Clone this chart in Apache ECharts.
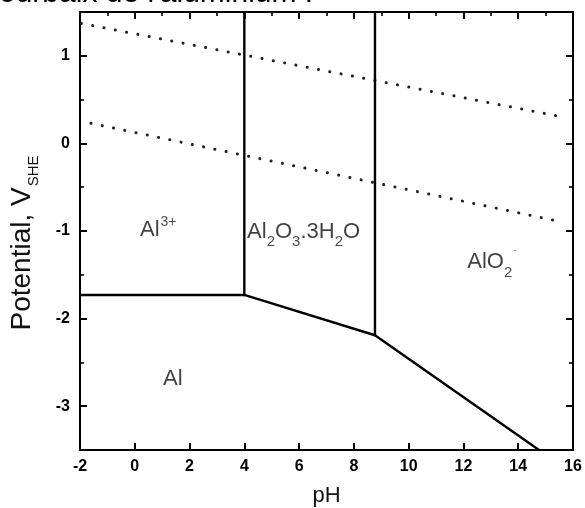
<!DOCTYPE html>
<html>
<head>
<meta charset="utf-8">
<script src="https://cdn.jsdelivr.net/npm/echarts@6/dist/echarts.min.js"></script>
<style>
html,body{margin:0;padding:0;background:#fff;}
#chart{width:585px;height:508px;}
</style>
</head>
<body>
<div id="chart"></div>
<script>
// ---- data (pH, potential V vs SHE) ----
const xTicks = [-2, 0, 2, 4, 6, 8, 10, 12, 14, 16];
const xTopMinor = [-1, 1, 3, 5, 7, 9, 11, 13, 15];
const yTicks = [-3, -2, -1, 0, 1];
const yMinor = [-2.5, -1.5, -0.5, 0.5];

const al3MetalLine = [[-2, -1.73], [4, -1.73]];
const al3OxideLine = [[4, -1.73], [4, 1.5]];
const oxideAluminateLine = [[8.77, -2.19], [8.77, 1.5]];
const metalLine = [[4, -1.73], [8.77, -2.19], [14.76, -3.5]];
const oxygenLine = [[-1.95, 1.37], [15.65, 0.30]];
const hydrogenLine = [[-1.6, 0.23], [15.65, -0.90]];

const regionNames = ['{b|Al}{sup|3+}', '{b|Al}{sub|2}{b|O}{sub|3}{b|.3H}{sub|2}{b|O}', '{b|AlO}{sub|2}{supl|-}', '{b|Al}'];
const regionPH = [0.19, 4.10, 12.14, 1.03];
const regionV = [-1.0, -1.02, -1.365, -2.70];

const FONT = "'Liberation Sans', Arial, sans-serif";
const chart = echarts.init(document.getElementById('chart'), null, {renderer: 'canvas'});

const solid = (data) => ({
  type: 'line', data: data, xAxisIndex: 0, yAxisIndex: 0, symbol: 'none', silent: true,
  lineStyle: {color: '#000', width: 2.4, cap: 'round', join: 'round'}, z: 5
});
const dotted = (data) => ({
  type: 'line', data: data, xAxisIndex: 0, yAxisIndex: 0, symbol: 'none', silent: true,
  lineStyle: {color: '#222', width: 3, type: [0.1, 11.4], cap: 'round'}, z: 4
});

const rich = {
  b: {fontFamily: FONT, fontSize: 22, color: '#111', lineHeight: 24, padding: [6, 0, 0, 0], verticalAlign: 'top'},
  sub: {fontFamily: FONT, fontSize: 15, color: '#1a1a1a', lineHeight: 15, padding: [20, 0, 0, 0], verticalAlign: 'top'},
  sup: {fontFamily: FONT, fontSize: 14, color: '#1a1a1a', lineHeight: 14, padding: [2, 0, 0, 1], verticalAlign: 'top'},
  supl: {fontFamily: FONT, fontSize: 10, color: '#888', lineHeight: 10, padding: [0, 0, 0, 1], verticalAlign: 'top'}
};

const labelData = regionNames.map((n, i) => ({value: [regionPH[i], regionV[i]], name: n}));

const axisLineStyle = {show: true, onZero: false, lineStyle: {color: '#000', width: 2}};
const noLine = {show: false, onZero: false};
const emptyAxis = {axisLabel: {show: false}, splitLine: {show: false}};
const tickRich = {t: {color: '#000', fontFamily: FONT, fontWeight: 'bold', fontSize: 16, lineHeight: 18}};

const option = {
  backgroundColor: '#fff',
  animation: false,
  textStyle: {fontFamily: FONT},
  title: {
    text: "ourbaix de l'aluminium :", left: -1, top: -21, padding: 0,
    textStyle: {fontFamily: FONT, fontSize: 30, fontWeight: 'normal', color: '#000'}
  },
  grid: {left: 80, right: 12, top: 12, bottom: 58, containLabel: false, outerBoundsMode: 'none'},
  xAxis: [
    {
      type: 'value', position: 'bottom', min: -2, max: 16, interval: 2,
      axisLine: axisLineStyle,
      axisTick: {show: true, inside: true, length: 7, lineStyle: {color: '#000', width: 2}},
      axisLabel: {show: true, margin: 8, color: '#000', fontSize: 16, fontWeight: 'bold',
        formatter: (v) => '{t|' + v + '}', rich: tickRich},
      splitLine: {show: false},
      name: 'pH', nameLocation: 'middle', nameGap: 35,
      nameTextStyle: {color: '#111', fontFamily: FONT, fontSize: 22}
    },
    Object.assign({
      type: 'value', position: 'top', min: -2, max: 16, interval: 2,
      axisLine: axisLineStyle,
      axisTick: {show: true, inside: true, length: 7, lineStyle: {color: '#000', width: 2}}
    }, emptyAxis),
    Object.assign({
      type: 'value', position: 'top', offset: 0, min: -2, max: 16, interval: 2,
      axisLine: noLine,
      axisTick: {show: true, inside: true, length: 4, customValues: xTopMinor, lineStyle: {color: '#000', width: 1.6}}
    }, emptyAxis)
  ],
  yAxis: [
    {
      type: 'value', position: 'left', min: -3.5, max: 1.5, interval: 0.5,
      axisLine: axisLineStyle,
      axisTick: {show: true, inside: true, length: 7, customValues: yTicks, lineStyle: {color: '#000', width: 2}},
      axisLabel: {show: true, margin: 10, color: '#000', fontSize: 16, fontWeight: 'bold',
        formatter: (v) => (yTicks.indexOf(v) >= 0 ? '{t|' + v + '}' : ''), rich: tickRich},
      splitLine: {show: false},
      name: '{n|Potential, V}{s|SHE}', nameLocation: 'middle', nameGap: 42, nameRotate: 90,
      nameTextStyle: {
        color: '#111', fontFamily: FONT, fontSize: 28, padding: [0, 24, 0, 0],
        rich: {
          n: {fontFamily: FONT, fontSize: 28, color: '#111', lineHeight: 30, verticalAlign: 'top'},
          s: {fontFamily: FONT, fontSize: 15, color: '#111', lineHeight: 15, padding: [18, 0, 0, 1], verticalAlign: 'top'}
        }
      }
    },
    Object.assign({
      type: 'value', position: 'left', offset: 0, min: -3.5, max: 1.5, interval: 0.5,
      axisLine: noLine,
      axisTick: {show: true, inside: true, length: 4, customValues: yMinor, lineStyle: {color: '#000', width: 1.6}}
    }, emptyAxis),
    Object.assign({
      type: 'value', position: 'right', min: -3.5, max: 1.5, interval: 0.5,
      axisLine: axisLineStyle,
      axisTick: {show: true, inside: true, length: 7, customValues: yTicks, lineStyle: {color: '#000', width: 2}}
    }, emptyAxis),
    Object.assign({
      type: 'value', position: 'right', offset: 0, min: -3.5, max: 1.5, interval: 0.5,
      axisLine: noLine,
      axisTick: {show: true, inside: true, length: 4, customValues: yMinor, lineStyle: {color: '#000', width: 1.6}}
    }, emptyAxis)
  ],
  series: [
    dotted(oxygenLine),
    dotted(hydrogenLine),
    solid(al3MetalLine),
    solid(al3OxideLine),
    solid(oxideAluminateLine),
    solid(metalLine),
    {
      type: 'scatter', xAxisIndex: 0, yAxisIndex: 0, symbolSize: 0, silent: true, z: 6,
      data: labelData,
      label: {
        show: true, position: [0, 0], align: 'left', verticalAlign: 'top', offset: [0, -18],
        color: '#111', formatter: (p) => p.name, rich: rich
      }
    }
  ]
};
chart.setOption(option);
</script>
</body>
</html>
